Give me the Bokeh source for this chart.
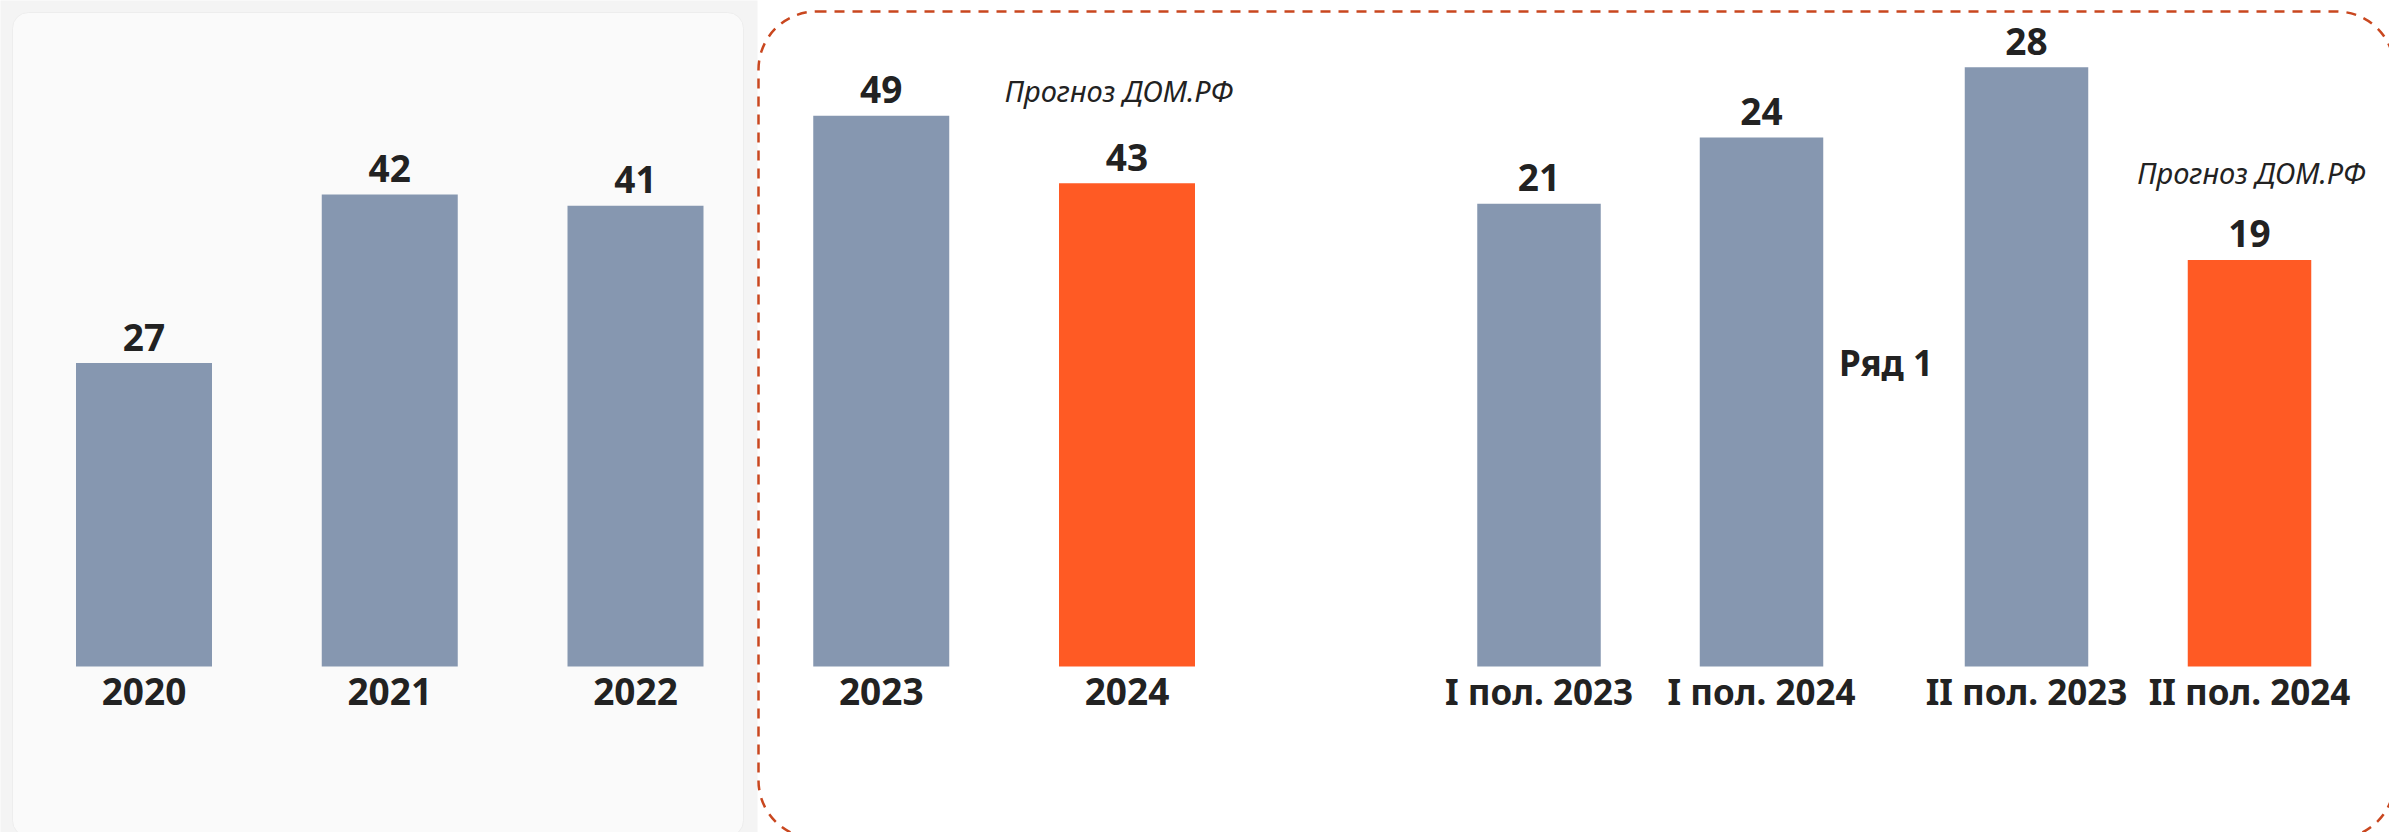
from bokeh.plotting import figure
from bokeh.models import Range1d, BoxAnnotation, Label
from bokeh.core.properties import value
from bokeh.embed import file_html
from bokeh.resources import INLINE

# ---------------- data ----------------
annual_labels = ["2020", "2021", "2022", "2023", "2024"]
annual_values = [27, 42, 41, 49, 43]
annual_forecast = [False, False, False, False, True]

h1_labels = ["I пол. 2023", "I пол. 2024"]
h1_values = [21, 24]
h1_forecast = [False, False]

h2_labels = ["II пол. 2023", "II пол. 2024"]
h2_values = [28, 19]
h2_forecast = [False, True]

series_name = "Ряд 1"
forecast_note = "Прогноз ДОМ.РФ"

# ---------------- layout / style ----------------
W, H = 2389, 832
PAGE = 0            # offset of the figure on the page
BASE = 666          # baseline position (px from top)
SCALE_MAIN, SCALE_H1, SCALE_H2 = 11.24, 22.04, 21.4   # px per unit

GREY = "#8697B0"
ORANGE = "#FF5A24"
INK = "#222222"
FONT = value("Noto Sans")


def yrange(scale):
    return Range1d(-(PAGE + H - BASE) / scale, (BASE - PAGE) / scale)


def to_y(px, scale):
    return (BASE - px) / scale


annual_x = [143.5 + i * 245.75 for i in range(len(annual_values))]
h1_x = [1538.5 + i * 222.5 for i in range(len(h1_values))]
h2_x = [2026 + i * 223 for i in range(len(h2_values))]

p = figure(width=W, height=H, x_range=Range1d(PAGE, PAGE + W), y_range=yrange(SCALE_MAIN),
           output_backend="svg", toolbar_location=None, x_axis_type=None, y_axis_type=None,
           min_border=0)
p.extra_y_ranges = {"h1": yrange(SCALE_H1), "h2": yrange(SCALE_H2)}
p.grid.visible = False
p.outline_line_color = None
p.background_fill_color = "white"
p.border_fill_color = "white"

# background decorations
p.add_layout(BoxAnnotation(left=-5, right=757, top=to_y(-5, SCALE_MAIN), bottom=to_y(840, SCALE_MAIN),
                           fill_color="#F4F4F4", fill_alpha=1, line_color=None, level="underlay"))
p.add_layout(BoxAnnotation(left=12, right=743, top=to_y(12, SCALE_MAIN), bottom=to_y(836, SCALE_MAIN),
                           fill_color="#FAFAFA", fill_alpha=1, line_color="#EDEDED", line_alpha=1,
                           line_width=1, border_radius=16, level="underlay"))
p.add_layout(BoxAnnotation(left=758, right=2394, top=to_y(11, SCALE_MAIN), bottom=to_y(838, SCALE_MAIN),
                           fill_color=None, fill_alpha=0, line_color="#C9471F", line_alpha=1,
                           line_width=2.5, line_dash="10 8", border_radius=58, level="underlay"))

TXT_SHIFT = 15   # compensation for the renderer's text placement


def group(xs, vals, labels, forecast, bw, rng, name_fs):
    colors = [ORANGE if f else GREY for f in forecast]
    kw = {} if rng is None else {"y_range_name": rng}
    p.vbar(x=xs, top=vals, bottom=0, width=bw, fill_color=colors, line_color=None, **kw)
    p.text(x=xs, y=vals, text=[str(v) for v in vals], y_offset=-11 - TXT_SHIFT, text_align="center",
           text_baseline="alphabetic", text_font=FONT, text_font_style="bold",
           text_font_size="37px", text_color=INK, **kw)
    p.text(x=xs, y=[0] * len(xs), text=labels, y_offset=40 - TXT_SHIFT, text_align="center",
           text_baseline="alphabetic", text_font=FONT, text_font_style="bold",
           text_font_size=name_fs, text_color=INK, **kw)


group(annual_x, annual_values, annual_labels, annual_forecast, 136, None, "37px")
group(h1_x, h1_values, h1_labels, h1_forecast, 123.5, "h1", "35px")
group(h2_x, h2_values, h2_labels, h2_forecast, 123.5, "h2", "35px")

# forecast notes above the forecast bars
fx = [x for x, f in zip(annual_x, annual_forecast) if f]
fy = [v for v, f in zip(annual_values, annual_forecast) if f]
p.text(x=fx, y=fy, text=[forecast_note] * len(fx), x_offset=-8, y_offset=-93, text_align="center",
       text_baseline="alphabetic", text_font=FONT, text_font_style="italic",
       text_font_size="29px", text_color=INK)
fx2 = [x for x, f in zip(h2_x, h2_forecast) if f]
fy2 = [v for v, f in zip(h2_values, h2_forecast) if f]
p.text(x=fx2, y=fy2, text=[forecast_note] * len(fx2), x_offset=2, y_offset=-87, text_align="center",
       text_baseline="alphabetic", text_font=FONT, text_font_style="italic",
       text_font_size="29px", text_color=INK, y_range_name="h2")

# series name between the half-year pairs
p.add_layout(Label(x=(h1_x[-1] + h2_x[0]) / 2 - 8, y=to_y(362, SCALE_H1), y_range_name="h1",
                   text=series_name, text_align="center", text_baseline="alphabetic",
                   text_font="Noto Sans", text_font_style="bold", text_font_size="35px",
                   text_color=INK))

open("out.html", "w").write(file_html(p, INLINE))
